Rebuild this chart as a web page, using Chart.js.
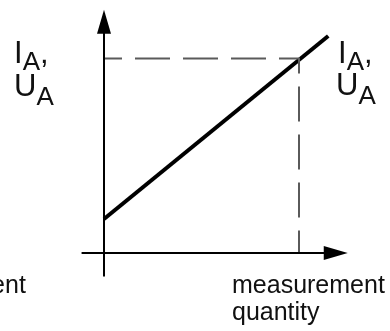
<!DOCTYPE html>
<html lang="en">
<head>
    <meta charset="UTF-8">
    <title>Output characteristic</title>
    <script src="https://cdn.jsdelivr.net/npm/chart.js"></script>
    <style>
        html, body {
            margin: 0;
            padding: 0;
            background: #fff;
            overflow: hidden;
        }
        .wrap {
            position: relative;
            width: 390px;
            height: 331px;
            font-family: "Liberation Sans", Arial, sans-serif;
            color: #111;
        }
        canvas {
            position: absolute;
            left: 0;
            top: 0;
        }
        .lbl {
            position: absolute;
            font-size: 31px;
            line-height: 1;
            white-space: nowrap;
        }
        .lbl sub {
            font-size: 26px;
            vertical-align: baseline;
            position: relative;
        }
        .qty {
            position: absolute;
            top: 271px;
            font-size: 25px;
            line-height: 27px;
            white-space: nowrap;
        }
    </style>
</head>
<body>
    <div class="wrap">
        <canvas id="chart" width="390" height="331"></canvas>

        <div class="lbl" style="left:14px; top:37px">I<sub style="top:7px">A</sub>,</div>
        <div class="lbl" style="left:14px; top:70px">U<sub style="top:9px">A</sub></div>

        <div class="lbl" style="left:338px; top:37px">I<sub style="top:7px">A</sub>,</div>
        <div class="lbl" style="left:336px; top:69px">U<sub style="top:9px">A</sub></div>

        <div class="qty" style="left:-127px">measurement<br>quantity</div>
        <div class="qty" style="left:232px">measurement<br>quantity</div>
    </div>

    <script>
        // characteristic: output (I_A / U_A) vs measurement quantity
        const lineX = [0, 11.5];
        const lineY = [1.75, 11.15];

        // rated point marked with dashed guides
        const ratedX = 10;
        const ratedY = 10;

        // extent of the drawn axes (data units)
        const xAxisRange = [-1.15, 12.5];
        const yAxisRange = [-1.2, 12.5];

        const axisPlugin = {
            id: 'arrowAxes',
            afterDatasetsDraw(chart) {
                const ctx = chart.ctx;
                const xs = chart.scales.x;
                const ys = chart.scales.y;
                const x0 = xs.getPixelForValue(0);
                const y0 = ys.getPixelForValue(0);
                const head = 24, half = 7;

                ctx.save();
                ctx.strokeStyle = '#000';
                ctx.fillStyle = '#000';
                ctx.lineWidth = 2;

                // horizontal axis
                const xa = xs.getPixelForValue(xAxisRange[0]);
                const xb = xs.getPixelForValue(xAxisRange[1]);
                ctx.beginPath();
                ctx.moveTo(xa, y0);
                ctx.lineTo(xb - head + 2, y0);
                ctx.stroke();
                ctx.beginPath();
                ctx.moveTo(xb, y0);
                ctx.lineTo(xb - head, y0 - half);
                ctx.lineTo(xb - head, y0 + half);
                ctx.closePath();
                ctx.fill();

                // vertical axis
                const ya = ys.getPixelForValue(yAxisRange[0]);
                const yb = ys.getPixelForValue(yAxisRange[1]);
                ctx.beginPath();
                ctx.moveTo(x0, ya);
                ctx.lineTo(x0, yb + head - 2);
                ctx.stroke();
                ctx.beginPath();
                ctx.moveTo(x0, yb);
                ctx.lineTo(x0 - half, yb + head);
                ctx.lineTo(x0 + half, yb + head);
                ctx.closePath();
                ctx.fill();
                ctx.restore();
            }
        };

        const ctx = document.getElementById('chart').getContext('2d');
        new Chart(ctx, {
            type: 'scatter',
            data: {
                datasets: [
                    {
                        label: 'guides',
                        data: [
                            { x: 0, y: ratedY },
                            { x: ratedX, y: ratedY },
                            { x: ratedX, y: 0 }
                        ],
                        showLine: true,
                        borderColor: '#5a5a5a',
                        borderWidth: 2,
                        borderDash: [35, 13],
                        borderDashOffset: 17,
                        pointRadius: 0,
                        tension: 0
                    },
                    {
                        label: 'output',
                        data: lineX.map((x, i) => ({ x: x, y: lineY[i] })),
                        showLine: true,
                        borderColor: '#000',
                        borderWidth: 4,
                        borderCapStyle: 'butt',
                        pointRadius: 0,
                        tension: 0
                    }
                ]
            },
            options: {
                responsive: false,
                devicePixelRatio: 1,
                animation: false,
                layout: { padding: 0 },
                plugins: {
                    legend: { display: false },
                    tooltip: { enabled: false }
                },
                scales: {
                    x: { type: 'linear', display: false, min: -16 / 3, max: 44 / 3 },
                    y: { type: 'linear', display: false, min: -4, max: 13 }
                }
            },
            plugins: [axisPlugin]
        });
    </script>
</body>
</html>
